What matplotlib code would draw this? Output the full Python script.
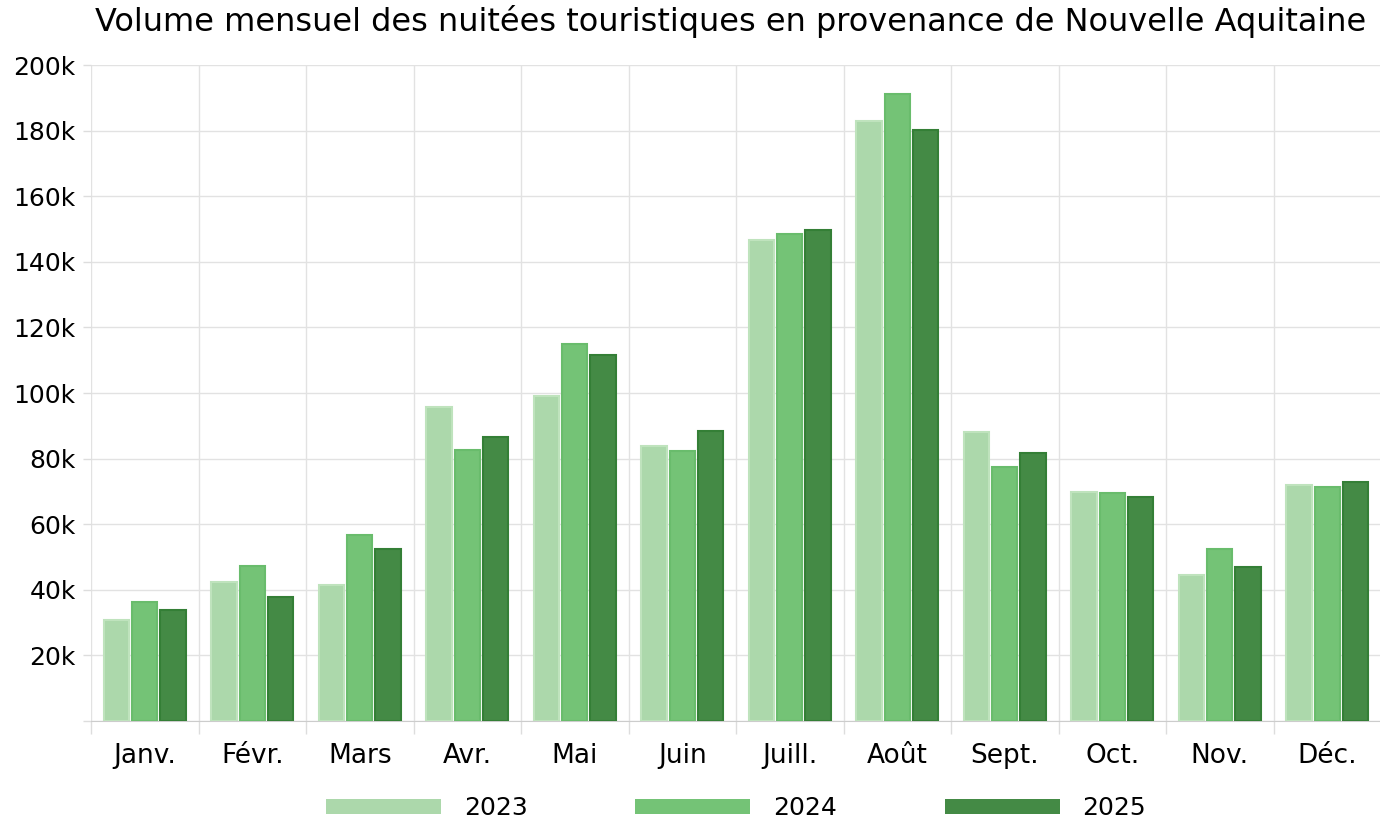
import matplotlib
matplotlib.use("Agg")
import matplotlib.pyplot as plt
import numpy as np
from matplotlib.ticker import FixedLocator, NullFormatter

plt.rcParams['font.family'] = ['DejaVu Sans']

months = ["Janv.", "Févr.", "Mars", "Avr.", "Mai", "Juin", "Juill.", "Août",
          "Sept.", "Oct.", "Nov.", "Déc."]
years = ["2023", "2024", "2025"]
v2023 = [30.8, 42.4, 41.5, 95.7, 99.1, 83.8, 146.6, 183.0, 88.1, 69.7, 44.4, 71.9]
v2024 = [36.4, 47.2, 56.7, 82.6, 114.9, 82.3, 148.4, 191.3, 77.4, 69.6, 52.3, 71.4]
v2025 = [33.9, 37.8, 52.4, 86.6, 111.6, 88.4, 149.6, 180.2, 81.7, 68.3, 46.9, 72.9]
yticks = [20, 40, 60, 80, 100, 120, 140, 160, 180, 200]
ytick_labels = ["20k", "40k", "60k", "80k", "100k", "120k", "140k", "160k", "180k", "200k"]

fills = ["#acd8ab", "#74c376", "#448a45"]
edges = ["#bfe3bd", "#69bc6c", "#347f36"]

fig = plt.figure(figsize=(13.8, 8.23), dpi=100)
ax = fig.add_axes([91/1380, 1 - 721/823, 1290/1380, 656/823])

x = np.arange(len(months))
offs = [-0.265, 0.0, 0.265]
for vals, off, fc, ec, lab in zip([v2023, v2024, v2025], offs, fills, edges, years):
    ax.bar(x + off, vals, width=0.237, color=fc, edgecolor=ec, linewidth=1.5,
           label=lab, zorder=3)

ax.set_xlim(-0.5, 11.5)
ax.set_ylim(0, 200)
ax.set_yticks([0] + yticks)
ax.set_yticklabels([""] + ytick_labels, fontsize=18)
ax.set_xticks(x)
ax.set_xticklabels(months, fontsize=19)
ax.xaxis.set_minor_locator(FixedLocator(np.arange(-0.5, 12, 1)))
ax.xaxis.set_minor_formatter(NullFormatter())
ax.tick_params(axis='x', which='major', length=0, pad=16)
ax.tick_params(axis='x', which='minor', length=9, color='#dddddd', width=1)
ax.tick_params(axis='y', length=6, color='#dddddd', width=1, pad=5)

ax.grid(True, axis='y', color='#e2e2e2', linewidth=1, zorder=0)
ax.grid(True, axis='x', which='minor', color='#e2e2e2', linewidth=1, zorder=0)
for s in ['top', 'right', 'left']:
    ax.spines[s].set_visible(False)
ax.spines['bottom'].set_color('#cccccc')
ax.set_axisbelow(True)

fig.text(731/1380, 1 - 22/823,
         "Volume mensuel des nuitées touristiques en provenance de Nouvelle Aquitaine",
         fontsize=23, ha='center', va='center')

leg = ax.legend(loc='center', bbox_to_anchor=(0.5, -87/656), ncol=3,
                frameon=False, fontsize=18, handlelength=4.6, handleheight=0.55,
                handletextpad=0.92, columnspacing=4.3)
for h in leg.legend_handles:
    h.set_linewidth(0)

fig.savefig("out.png", dpi=100, facecolor='white')
